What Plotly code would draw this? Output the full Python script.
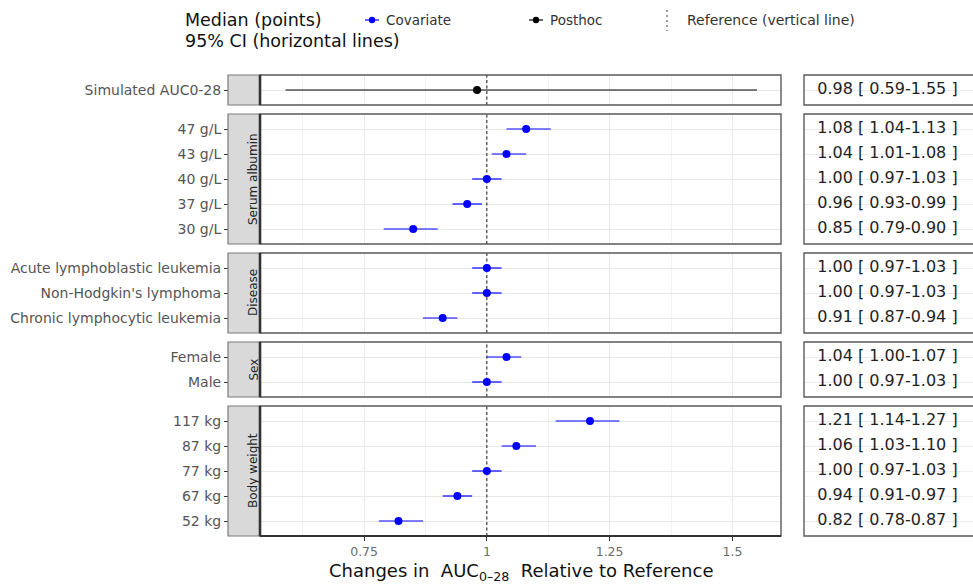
import plotly.graph_objects as go

W, H = 973, 586

# ---- data -------------------------------------------------------------
sim_labels = ["Simulated AUC0-28"]
sim_med = [0.98]
sim_lo = [0.59]
sim_hi = [1.55]

alb_labels = ["47 g/L", "43 g/L", "40 g/L", "37 g/L", "30 g/L"]
alb_med = [1.08, 1.04, 1.00, 0.96, 0.85]
alb_lo = [1.04, 1.01, 0.97, 0.93, 0.79]
alb_hi = [1.13, 1.08, 1.03, 0.99, 0.90]

dis_labels = ["Acute lymphoblastic leukemia", "Non-Hodgkin's lymphoma",
              "Chronic lymphocytic leukemia"]
dis_med = [1.00, 1.00, 0.91]
dis_lo = [0.97, 0.97, 0.87]
dis_hi = [1.03, 1.03, 0.94]

sex_labels = ["Female", "Male"]
sex_med = [1.04, 1.00]
sex_lo = [1.00, 0.97]
sex_hi = [1.07, 1.03]

bw_labels = ["117 kg", "87 kg", "77 kg", "67 kg", "52 kg"]
bw_med = [1.21, 1.06, 1.00, 0.94, 0.82]
bw_lo = [1.14, 1.03, 0.97, 0.91, 0.78]
bw_hi = [1.27, 1.10, 1.03, 0.97, 0.87]

ref_value = 1.0
x_ticks = [0.75, 1.0, 1.25, 1.5]
x_tick_text = ["0.75", "1", "1.25", "1.5"]
x_minor = [0.625, 0.875, 1.125, 1.375]

panels = [
    ("", "Posthoc", sim_labels, sim_med, sim_lo, sim_hi),
    ("Serum albumin", "Covariate", alb_labels, alb_med, alb_lo, alb_hi),
    ("Disease", "Covariate", dis_labels, dis_med, dis_lo, dis_hi),
    ("Sex", "Covariate", sex_labels, sex_med, sex_lo, sex_hi),
    ("Body weight", "Covariate", bw_labels, bw_med, bw_lo, bw_hi),
]
colors = {"Covariate": "#0000FF", "Posthoc": "#000000"}

# ---- layout helpers (pixel -> paper) ------------------------------------
FONT = "DejaVu Sans"


def px(x):
    return x / W


def py(y):
    return 1 - y / H


PLOT_L, PLOT_R = 260, 781
STRIP_L = 228
TAB_L = 804
TOP = 75
ROW = 25
GAP = 9
PAD = 0.6  # discrete-axis padding, in rows
X_RANGE = [0.538, 1.599]

fig = go.Figure()
layout = {}
shapes = []
annotations = []

y_top = TOP
n_p = len(panels)
for i, (strip, kind, labels, med, lo, hi) in enumerate(panels):
    k = i + 1
    t = k + n_p  # table axes index
    n = len(labels)
    height = (n - 1 + 2 * PAD) * ROW
    y_bot = y_top + height
    dom = [py(y_bot), py(y_top)]
    sfx = "" if k == 1 else str(k)
    last = k == n_p

    col = colors[kind]
    fig.add_trace(go.Scatter(
        x=med, y=labels, mode="markers",
        xaxis="x" + sfx, yaxis="y" + sfx,
        marker=dict(color=col, size=8),
        error_x=dict(type="data", symmetric=False,
                     array=[h - m for h, m in zip(hi, med)],
                     arrayminus=[m - l for m, l in zip(med, lo)],
                     color=col, thickness=1.2, width=0),
        showlegend=False, hoverinfo="skip",
    ))

    layout["xaxis" + sfx] = dict(
        domain=[px(PLOT_L), px(PLOT_R)], anchor="y" + sfx, range=X_RANGE,
        tickvals=x_ticks, ticktext=x_tick_text,
        showticklabels=last, ticks="outside" if last else "",
        ticklen=4, tickcolor="#333333", tickwidth=1,
        tickfont=dict(family=FONT, size=12.5, color="#6b6b6b"),
        showgrid=True, gridcolor="#e8e8e8", gridwidth=1.1,
        minor=dict(tickvals=x_minor, showgrid=True, gridcolor="#f3f3f3",
                   gridwidth=0.8),
        zeroline=False, showline=False, fixedrange=True,
        **({} if k == 1 else {"matches": "x"}),
    )
    cat_range = [n - 1 + PAD, -PAD]
    layout["yaxis" + sfx] = dict(
        domain=dom, anchor="free", position=px(STRIP_L), type="category",
        categoryorder="array", categoryarray=labels, range=cat_range,
        ticks="outside", ticklen=4, tickcolor="#333333", tickwidth=1.3,
        tickfont=dict(family=FONT, size=14, color="#555555"),
        showgrid=True, gridcolor="#e8e8e8", gridwidth=1.1,
        zeroline=False, showline=False, fixedrange=True,
    )

    # table column with the median [CI] text
    fig.add_trace(go.Scatter(
        x=[0] * n, y=labels, mode="text",
        text=[f"{m:.2f} [ {l:.2f}-{h:.2f} ]" for m, l, h in zip(med, lo, hi)],
        textposition="middle right",
        textfont=dict(family=FONT, size=16, color="#1f1f1f"),
        xaxis=f"x{t}", yaxis=f"y{t}", showlegend=False, hoverinfo="skip",
    ))
    layout[f"xaxis{t}"] = dict(domain=[px(TAB_L), 1], anchor=f"y{t}",
                               range=[-0.085, 1], visible=False,
                               fixedrange=True)
    layout[f"yaxis{t}"] = dict(
        domain=dom, anchor=f"x{t}", type="category", categoryorder="array",
        categoryarray=labels, range=cat_range, showticklabels=False,
        ticks="", showgrid=True, gridcolor="#ececec", gridwidth=1,
        zeroline=False, showline=False, fixedrange=True,
    )

    yd = f"y{sfx} domain"
    xd = f"x{sfx} domain"
    # reference line: above the grid, beneath the points
    shapes.append(dict(type="line", xref="x" + sfx, yref="y" + sfx,
                       x0=ref_value, x1=ref_value,
                       y0=cat_range[0], y1=cat_range[1],
                       line=dict(color="#1a1a1a", width=1, dash="3px,2.5px"),
                       layer="between"))
    # strip box
    shapes.append(dict(type="rect", xref="paper", yref=yd,
                       x0=px(STRIP_L), x1=px(PLOT_L), y0=0, y1=1,
                       fillcolor="#d9d9d9", line=dict(color="#7a7a7a", width=1.2),
                       layer="above"))
    # panel border
    shapes.append(dict(type="rect", xref=xd, yref=yd, x0=0, x1=1, y0=0, y1=1,
                       line=dict(color="#5a5a5a", width=1.4), layer="above"))
    shapes.append(dict(type="line", xref=xd, yref=yd, x0=0, x1=0, y0=0, y1=1,
                       line=dict(color="#333333", width=2.6), layer="above"))
    if last:
        shapes.append(dict(type="line", xref=xd, yref=yd, x0=0, x1=1, y0=0,
                           y1=0, line=dict(color="#333333", width=1.8),
                           layer="above"))
    # table border
    shapes.append(dict(type="rect", xref="paper", yref=f"y{t} domain",
                       x0=px(TAB_L), x1=1.05, y0=0, y1=1,
                       line=dict(color="#5a5a5a", width=1.4), layer="above"))
    if strip:
        annotations.append(dict(text=strip, xref="paper", yref=yd,
                                x=px((STRIP_L + PLOT_L) / 2), y=0.5,
                                textangle=-90, showarrow=False,
                                font=dict(family=FONT, size=12,
                                          color="#262626")))
    y_top = y_bot + GAP

# ---- legend --------------------------------------------------------------
for line_text, ly in [("Median (points)", 20), ("95% CI (horizontal lines)", 41)]:
    annotations.append(dict(text=line_text, xref="paper", yref="paper",
                            x=px(183), y=py(ly), xanchor="left",
                            yanchor="middle", showarrow=False,
                            font=dict(family=FONT, size=17.5, color="#111111")))
leg_y = 20
for name, gx, tx in [("Covariate", 372, 384), ("Posthoc", 536, 548)]:
    shapes.append(dict(type="line", xref="paper", yref="paper",
                       x0=px(gx - 7), x1=px(gx + 7), y0=py(leg_y), y1=py(leg_y),
                       line=dict(color=colors[name], width=1.2)))
    shapes.append(dict(type="circle", xref="paper", yref="paper",
                       x0=px(gx - 3.2), x1=px(gx + 3.2),
                       y0=py(leg_y + 3.2), y1=py(leg_y - 3.2),
                       fillcolor=colors[name], line=dict(width=0)))
    annotations.append(dict(text=name, xref="paper", yref="paper",
                            x=px(tx), y=py(leg_y), xanchor="left",
                            yanchor="middle", showarrow=False,
                            font=dict(family=FONT, size=13.5, color="#333333")))
shapes.append(dict(type="line", xref="paper", yref="paper",
                   x0=px(667), x1=px(667), y0=py(10), y1=py(31),
                   line=dict(color="#333333", width=1, dash="2px,3px")))
annotations.append(dict(text="Reference (vertical line)", xref="paper",
                        yref="paper", x=px(685), y=py(leg_y), xanchor="left",
                        yanchor="middle", showarrow=False,
                        font=dict(family=FONT, size=14, color="#333333")))

# ---- x axis title --------------------------------------------------------
annotations.append(dict(
    text="Changes in  AUC<sub>0\u201328</sub>  Relative to Reference",
    xref="paper", yref="paper", x=px((PLOT_L + PLOT_R) / 2), y=py(572),
    xanchor="center", yanchor="middle", showarrow=False,
    font=dict(family=FONT, size=18, color="#111111")))

fig.update_layout(
    width=W, height=H, margin=dict(l=0, r=0, t=0, b=0),
    plot_bgcolor="white", paper_bgcolor="white",
    shapes=shapes, annotations=annotations, showlegend=False,
    **layout,
)
fig.write_html("out.html")
